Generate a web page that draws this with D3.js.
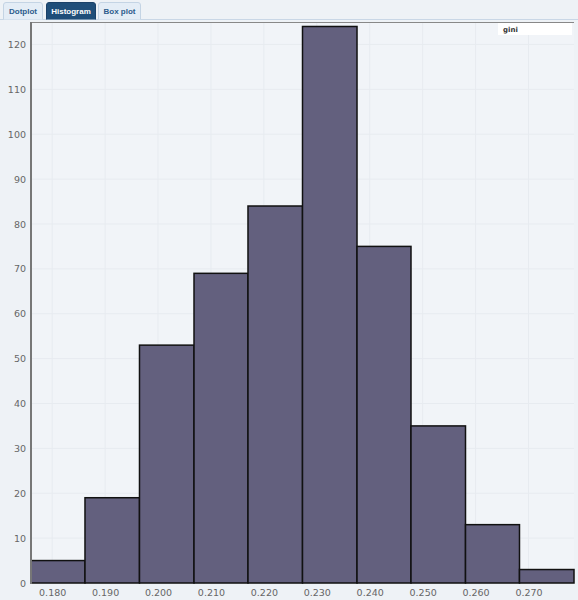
<!DOCTYPE html>
<html lang="en">
<head>
<meta charset="UTF-8">
<title>Histogram</title>
<script src="https://d3js.org/d3.v7.min.js"></script>
<style>
    body { margin: 0; background: #eef2f6; font-family: "DejaVu Sans", Verdana, sans-serif; }
    .tab text { font-family: "Liberation Sans", Arial, sans-serif; font-size: 8px; font-weight: bold; }
    .axis text { font-family: "DejaVu Sans", Verdana, sans-serif; font-size: 9.5px; fill: #666; }
    .grid line { stroke: #e7ebf0; stroke-width: 1; }
    .bar { fill: #63607e; stroke: #111; stroke-width: 1.5; }
</style>
</head>
<body>
<div id="chart"></div>
<script>
    // histogram bins (lower/upper edges) and counts
    const binEdges = [0.1760, 0.1862, 0.1965, 0.2068, 0.2170, 0.2273, 0.2376, 0.2478, 0.2581, 0.2683, 0.2786];
    const counts = [5, 19, 53, 69, 84, 124, 75, 35, 13, 3];
    const xTicks = [0.18, 0.19, 0.20, 0.21, 0.22, 0.23, 0.24, 0.25, 0.26, 0.27];
    const yTicks = [0, 10, 20, 30, 40, 50, 60, 70, 80, 90, 100, 110, 120];
    const tabs = ["Dotplot", "Histogram", "Box plot"];
    const activeTab = "Histogram";
    const seriesName = "gini";

    const W = 578, H = 600;
    const plot = { left: 31, right: 574, top: 22, bottom: 583 };

    const svg = d3.select("#chart").append("svg")
        .attr("width", W).attr("height", H);

    svg.append("rect").attr("width", W).attr("height", H).attr("fill", "#eef2f6");

    // tab strip
    const tabX = [3, 46, 98], tabW = [40, 50, 43];
    svg.append("line")
        .attr("x1", 0).attr("x2", W).attr("y1", 19.5).attr("y2", 19.5)
        .attr("stroke", "#c9d7e6");
    const tabG = svg.selectAll(".tab").data(tabs).enter().append("g")
        .attr("class", "tab")
        .attr("transform", (d, i) => `translate(${tabX[i]},2)`);
    tabG.append("path")
        .attr("d", (d, i) => `M0.5,17.5 V3 Q0.5,0.5 3,0.5 H${tabW[i] - 3} Q${tabW[i] - 0.5},0.5 ${tabW[i] - 0.5},3 V17.5`)
        .attr("fill", d => d === activeTab ? "#1f4e79" : "#e4edf6")
        .attr("stroke", d => d === activeTab ? "#1a4168" : "#c4d4e4");
    tabG.append("text")
        .attr("x", (d, i) => tabW[i] / 2).attr("y", 12)
        .attr("text-anchor", "middle")
        .attr("fill", d => d === activeTab ? "#fff" : "#2d5c8c")
        .text(d => d);

    const x = d3.scaleLinear().domain([binEdges[0], binEdges[binEdges.length - 1]])
        .range([plot.left, plot.right]);
    const y = d3.scaleLinear().domain([0, 125]).range([plot.bottom, plot.top]);

    // plot background
    svg.append("rect")
        .attr("x", plot.left).attr("y", plot.top)
        .attr("width", plot.right - plot.left).attr("height", plot.bottom - plot.top)
        .attr("fill", "#f1f4f8");

    // grid
    const grid = svg.append("g").attr("class", "grid");
    grid.selectAll(".vx").data(xTicks).enter().append("line")
        .attr("x1", d => x(d)).attr("x2", d => x(d))
        .attr("y1", plot.top).attr("y2", plot.bottom);
    grid.selectAll(".hy").data(yTicks.slice(1)).enter().append("line")
        .attr("x1", plot.left).attr("x2", plot.right)
        .attr("y1", d => y(d)).attr("y2", d => y(d));

    // bars
    svg.selectAll(".bar").data(counts).enter().append("rect")
        .attr("class", "bar")
        .attr("x", (d, i) => x(binEdges[i]))
        .attr("width", (d, i) => x(binEdges[i + 1]) - x(binEdges[i]))
        .attr("y", d => y(d))
        .attr("height", d => y(0) - y(d));

    // frame
    svg.append("line")
        .attr("x1", plot.left).attr("x2", plot.right)
        .attr("y1", plot.top + 0.5).attr("y2", plot.top + 0.5)
        .attr("stroke", "#888");
    svg.append("line")
        .attr("x1", plot.left).attr("x2", plot.left)
        .attr("y1", plot.top).attr("y2", plot.bottom + 1)
        .attr("stroke", "#777").attr("stroke-width", 2);

    // axes
    const xAxis = svg.append("g").attr("class", "axis")
        .attr("transform", `translate(0,${plot.bottom})`)
        .call(d3.axisBottom(x).tickValues(xTicks).tickFormat(d3.format(".3f")).tickSize(0).tickPadding(6));
    xAxis.select(".domain").remove();

    const yAxis = svg.append("g").attr("class", "axis")
        .attr("transform", `translate(${plot.left},0)`)
        .call(d3.axisLeft(y).tickValues(yTicks).tickSize(0).tickPadding(5));
    yAxis.select(".domain").remove();

    // legend
    const leg = svg.append("g").attr("transform", "translate(498,23)");
    leg.append("rect").attr("width", 74).attr("height", 12).attr("fill", "#fff");
    leg.append("text").attr("x", 5).attr("y", 9)
        .attr("font-size", 7).attr("font-weight", "bold").attr("fill", "#333")
        .text(seriesName);
</script>
</body>
</html>
